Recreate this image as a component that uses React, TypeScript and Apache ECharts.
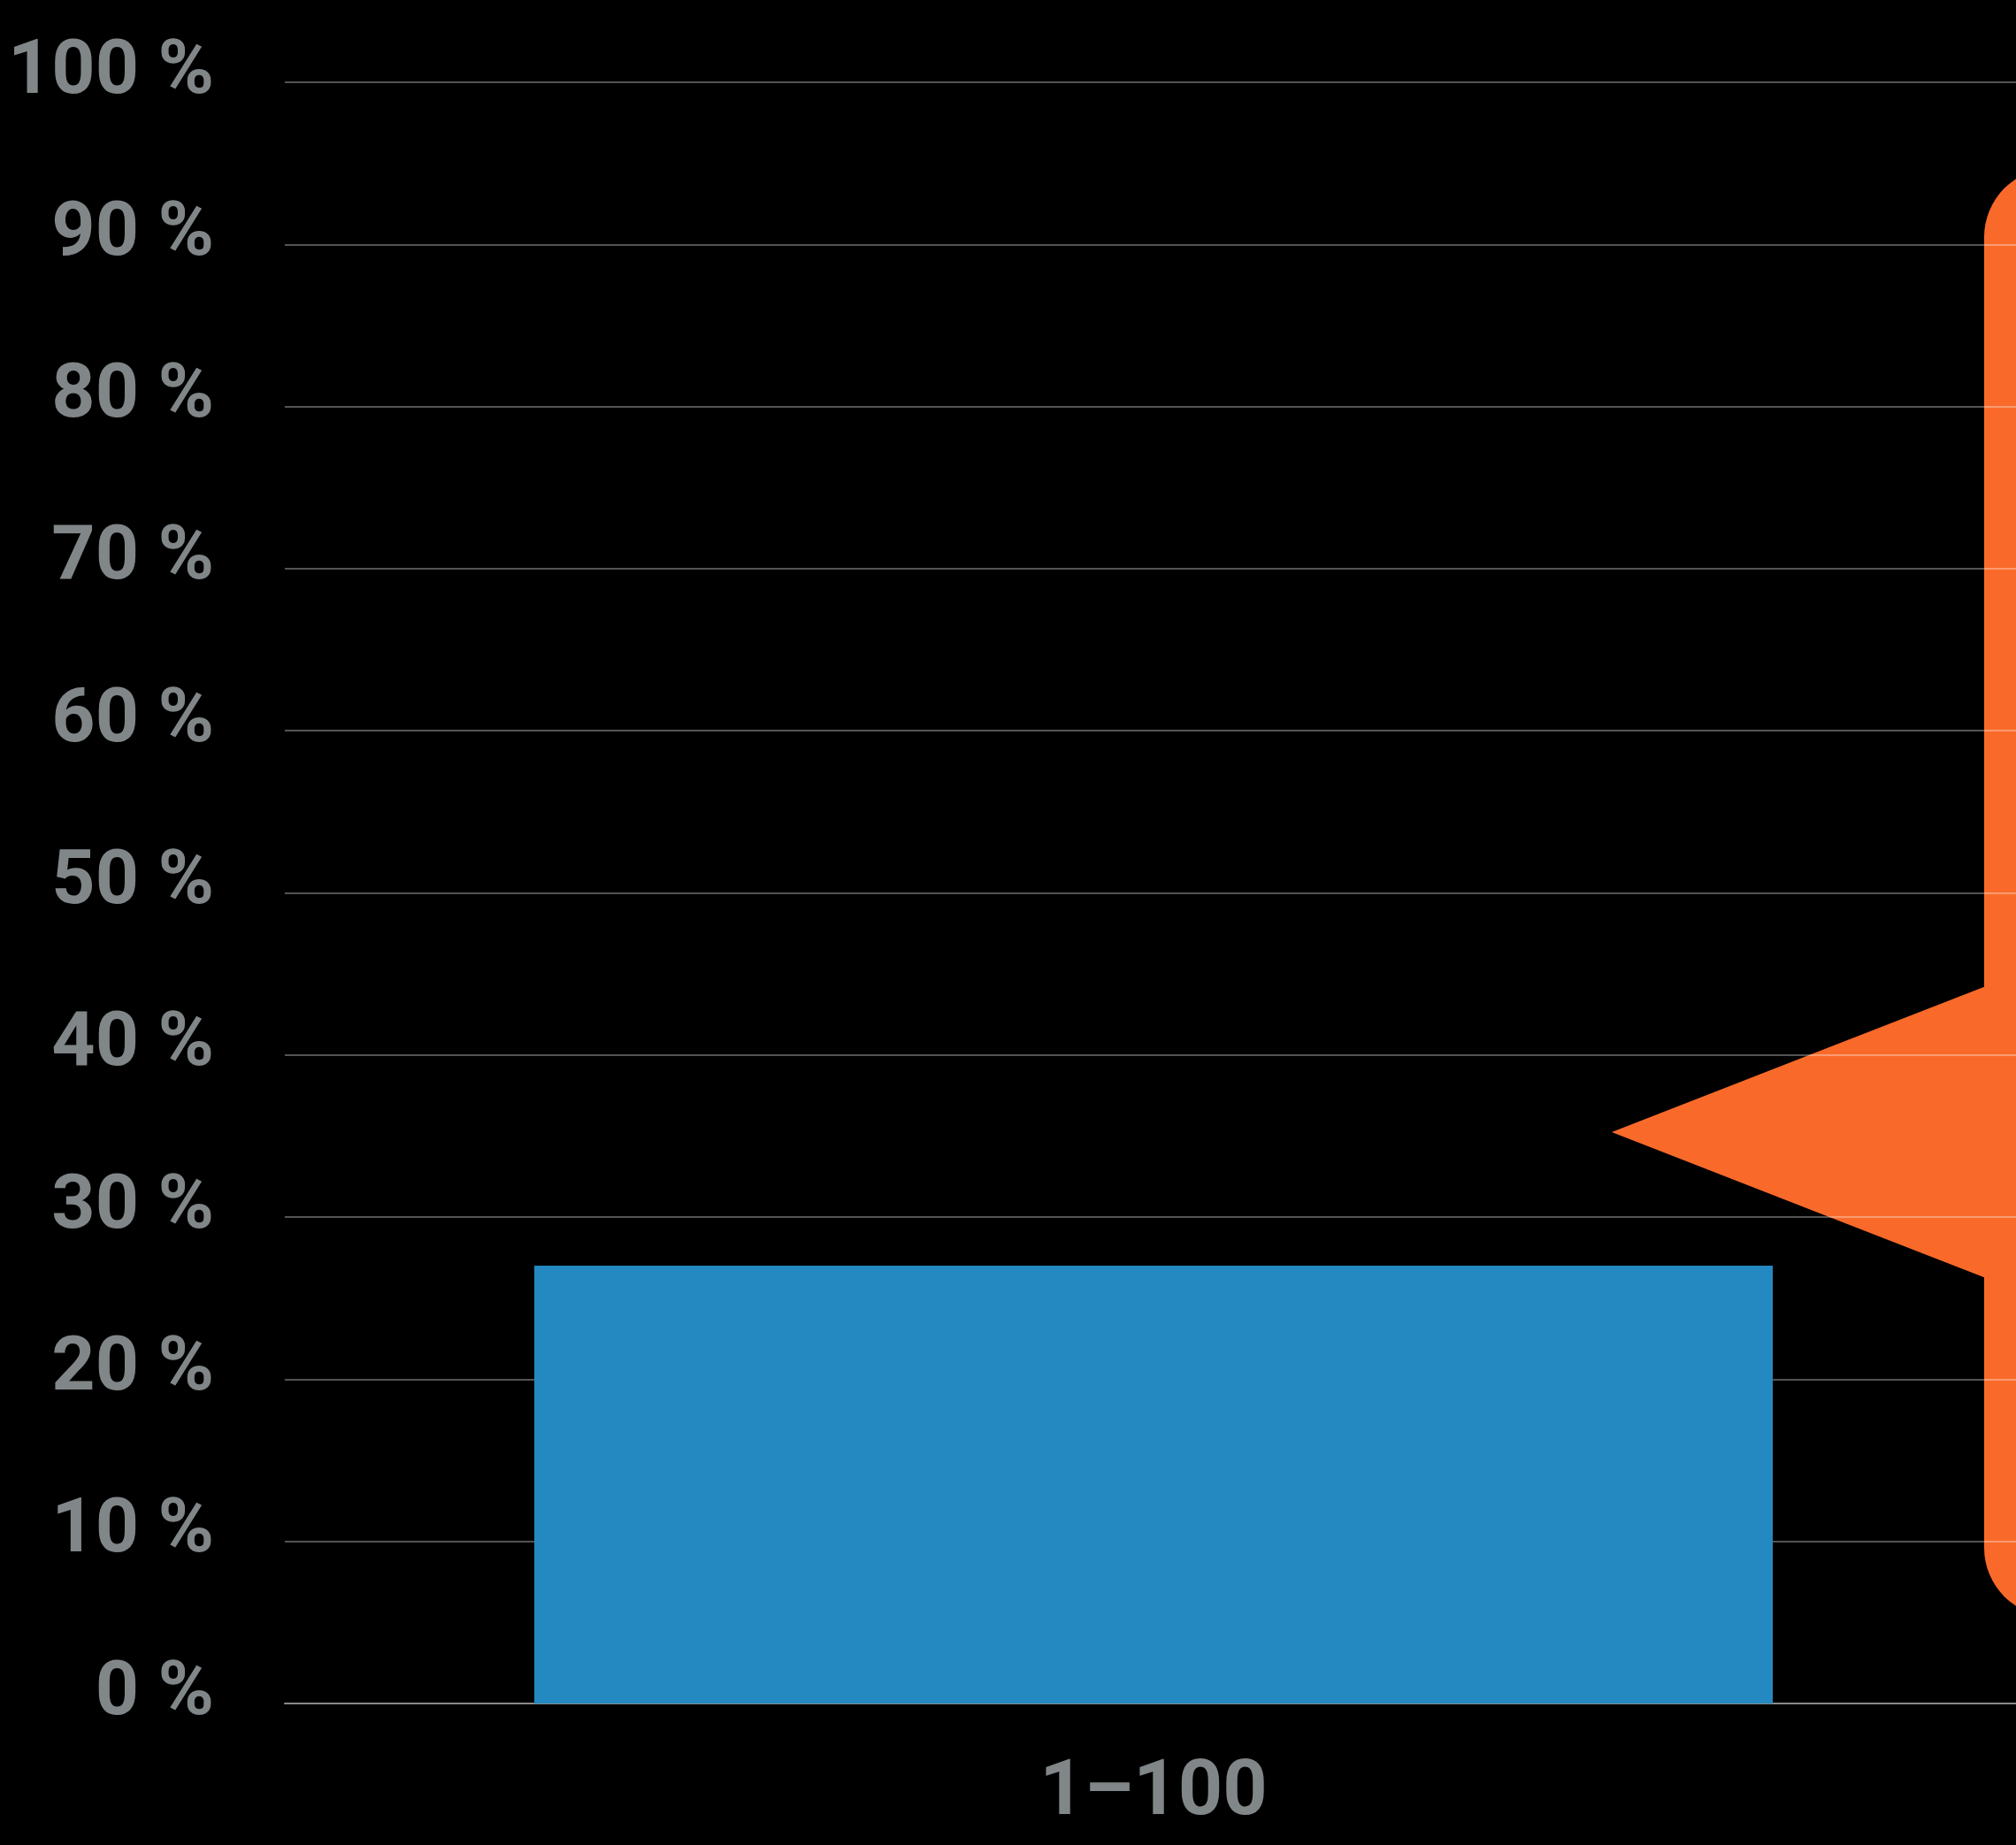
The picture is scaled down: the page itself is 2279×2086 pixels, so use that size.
import React, { useEffect, useRef } from "react";
import * as echarts from "echarts";

const categories = ["1–100"];
const values = [27.0];
const yTicks = { min: 0, max: 100, interval: 10 };

const FONT = "Roboto, 'Noto Sans', sans-serif";
const TEXT = "#818688";

export default function App() {
  const ref = useRef<HTMLDivElement>(null);
  useEffect(() => {
    if (!ref.current) return;
    const chart = echarts.init(ref.current, null, { renderer: "svg" });
    chart.setOption({
      animation: false,
      backgroundColor: "#000000",
      grid: {
        left: 322,
        right: -7,
        top: 93,
        bottom: 160,
        containLabel: false,
        outerBoundsMode: "none",
      },
      xAxis: {
        type: "category",
        data: categories,
        axisTick: { show: false },
        axisLine: { show: true, lineStyle: { color: "#8a8a8a", width: 2 } },
        axisLabel: {
          color: TEXT,
          fontFamily: FONT,
          fontWeight: "bold",
          fontSize: 88,
          margin: 50,
        },
      },
      yAxis: {
        type: "value",
        min: yTicks.min,
        max: yTicks.max,
        interval: yTicks.interval,
        axisLine: { show: false },
        axisTick: { show: false },
        splitLine: { lineStyle: { color: "rgba(255,255,255,0.33)", width: 2 } },
        axisLabel: {
          color: TEXT,
          fontFamily: FONT,
          fontWeight: "bold",
          fontSize: 86,
          margin: 80,
          verticalAlign: "bottom",
          lineHeight: 36,
          formatter: "{value} %",
        },
      },
      graphic: {
        elements: [
          {
            type: "rect",
            z: -10,
            shape: { x: 2243, y: 190, width: 300, height: 1638, r: 78 },
            style: { fill: "#F96A2A" },
          },
          {
            type: "polygon",
            z: -10,
            shape: { points: [[1822, 1280], [2245, 1115], [2245, 1445]] },
            style: { fill: "#F96A2A" },
          },
        ],
      },
      series: [
        {
          type: "bar",
          data: values,
          barWidth: 1400,
          itemStyle: { color: "#2489C0" },
        },
      ],
    });
    return () => chart.dispose();
  }, []);
  return (
    <div
      ref={ref}
      style={{ position: "absolute", left: 0, top: 0, width: 2279, height: 2086 }}
    />
  );
}
